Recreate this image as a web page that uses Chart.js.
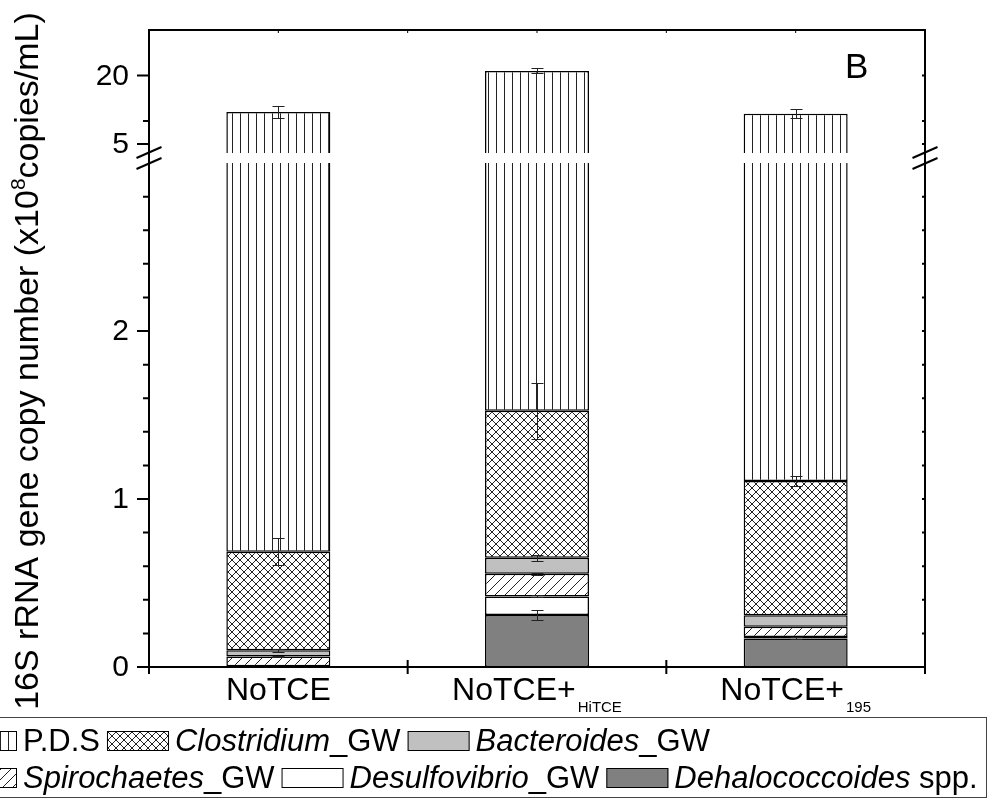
<!DOCTYPE html>
<html>
<head>
<meta charset="utf-8">
<script src="https://cdn.jsdelivr.net/npm/chart.js@4.4.0/dist/chart.umd.min.js"></script>
<style>
  html, body { margin: 0; padding: 0; background: #fff; }
  #wrap { width: 997px; height: 803px; position: relative; }
</style>
</head>
<body>
<div id="wrap"><canvas id="chart"></canvas></div>
<script>
"use strict";

// ── Categories (main label + subscript)
const groups    = ["NoTCE", "NoTCE+", "NoTCE+"];
const groupSubs = ["", "HiTCE", "195"];

// ── Gene copies (x10^8 copies/mL), stacked bottom to top
const dehalococcoides = [0.000, 0.310, 0.170];
const desulfovibrio   = [0.005, 0.110, 0.008];
const spirochaetes    = [0.058, 0.135, 0.062];
const bacteroides     = [0.037, 0.096, 0.068];
const clostridium     = [0.586, 0.875, 0.799];
const pds             = [11.31, 19.48, 10.52];

// ── Standard deviations, same order
const errDhc     = [0.000, 0.028, 0.006];
const errDesulfo = [0.000, 0.006, 0.000];
const errSpiro   = [0.004, 0.006, 0.000];
const errBact    = [0.010, 0.018, 0.000];
const errClost   = [0.080, 0.167, 0.028];
const errPds     = [1.25, 0.55, 1.00];

// ── Broken y axis: lower part 0..3, upper part 3..30
const BREAK    = 3;
const LOW_MAX  = 3.06;
const HIGH_MIN = 3;
const HIGH_MAX = 30;
const lowMajor  = [0, 1, 2];
const lowMinor  = [0.2, 0.4, 0.6, 0.8, 1.2, 1.4, 1.6, 1.8, 2.2, 2.4, 2.6, 2.8];
const highMajor = [5, 20];
const highMinor = [10];

const FONT = '"Liberation Sans", Arial, sans-serif';

// ── Fill patterns
function makePattern(size, draw) {
  const c = document.createElement("canvas");
  c.width = size; c.height = size;
  const g = c.getContext("2d");
  g.fillStyle = "#fff"; g.fillRect(0, 0, size, size);
  g.strokeStyle = "#222"; g.lineWidth = 1;
  draw(g, size);
  return g.createPattern(c, "repeat");
}
const vLines = makePattern(8, (g, s) => {
  g.beginPath(); g.moveTo(0.5, 0); g.lineTo(0.5, s); g.stroke();
});
const crossHatch = makePattern(8, (g, s) => {
  g.beginPath();
  g.moveTo(0, 0); g.lineTo(s, s);
  g.moveTo(s, 0); g.lineTo(0, s);
  g.stroke();
});
const diagHatch = makePattern(10, (g, s) => {
  g.beginPath();
  g.moveTo(0, s); g.lineTo(s, 0);
  g.moveTo(-2, 2); g.lineTo(2, -2);
  g.moveTo(s - 2, s + 2); g.lineTo(s + 2, s - 2);
  g.stroke();
});
const GRAY_LIGHT = "#c0c0c0";
const GRAY_DARK  = "#808080";

// ── Derived stacks
const lowStack = [dehalococcoides, desulfovibrio, spirochaetes, bacteroides, clostridium];
const lowErrs  = [errDhc, errDesulfo, errSpiro, errBact, errClost];
const belowPds = groups.map((_, i) => lowStack.reduce((s, arr) => s + arr[i], 0));
const totals   = groups.map((_, i) => belowPds[i] + pds[i]);
const pdsLow   = groups.map((_, i) => Math.min(totals[i], BREAK) - belowPds[i]);
const pdsHigh  = groups.map((_, i) => [HIGH_MIN, totals[i]]);

const BW = 1.5;
const seg = (label, data, bg) => ({
  label, data, backgroundColor: bg, borderColor: "#000", borderWidth: BW,
  borderSkipped: false, yAxisID: "yLow", stack: "s",
});

const datasets = [
  seg("Dehalococcoides spp.", dehalococcoides, GRAY_DARK),
  seg("Desulfovibrio_GW", desulfovibrio, "#fff"),
  seg("Spirochaetes_GW", spirochaetes, diagHatch),
  seg("Bacteroides_GW", bacteroides, GRAY_LIGHT),
  seg("Clostridium_GW", clostridium, crossHatch),
  { label: "P.D.S", data: pdsLow, backgroundColor: vLines, borderColor: "#000",
    borderWidth: { top: 0, left: BW, right: BW, bottom: BW }, borderSkipped: false,
    yAxisID: "yLow", stack: "s" },
  { label: "P.D.S", data: pdsHigh, backgroundColor: vLines, borderColor: "#000",
    borderWidth: { top: BW, left: BW, right: BW, bottom: 0 }, borderSkipped: false,
    yAxisID: "yHigh", stack: "s" },
];

// ── Error bars on top of each segment
const errorBars = {
  id: "errorBars",
  afterDatasetsDraw(chart) {
    const ctx = chart.ctx, yLow = chart.scales.yLow, yHigh = chart.scales.yHigh;
    const bars = chart.getDatasetMeta(0).data;
    ctx.save();
    ctx.strokeStyle = "#222"; ctx.lineWidth = 1;
    const bar = (x, y1, y2) => {
      ctx.beginPath();
      ctx.moveTo(x, y1); ctx.lineTo(x, y2);
      ctx.moveTo(x - 6, y1); ctx.lineTo(x + 6, y1);
      ctx.moveTo(x - 6, y2); ctx.lineTo(x + 6, y2);
      ctx.stroke();
    };
    groups.forEach((_, i) => {
      const x = Math.round(bars[i].x) + 0.5;
      let cum = 0;
      lowStack.forEach((arr, k) => {
        cum += arr[i];
        const e = lowErrs[k][i];
        if (e > 0) bar(x, Math.round(yLow.getPixelForValue(cum + e)) + 0.5, Math.round(yLow.getPixelForValue(cum - e)) + 0.5);
      });
      const e = errPds[i];
      bar(x, Math.round(yHigh.getPixelForValue(totals[i] + e)) + 0.5, Math.round(yHigh.getPixelForValue(totals[i] - e)) + 0.5);
    });
    ctx.restore();
  },
};

// ── Legend box with pattern swatches and mixed italic text
function drawLegend(ctx) {
  const rows = [
    [ { fill: vLines, parts: [["P.D.S", false]] },
      { fill: crossHatch, parts: [["Clostridium", true], ["_GW", false]] },
      { fill: GRAY_LIGHT, parts: [["Bacteroides", true], ["_GW", false]] } ],
    [ { fill: diagHatch, parts: [["Spirochaetes", true], ["_GW", false]] },
      { fill: "#fff", parts: [["Desulfovibrio", true], ["_GW", false]] },
      { fill: GRAY_DARK, parts: [["Dehalococcoides", true], [" spp.", false]] } ],
  ];
  const rowY = [741, 778];
  ctx.save();
  ctx.strokeStyle = "#444"; ctx.lineWidth = 1;
  ctx.strokeRect(-50.5, 717.5, 1037, 80);
  ctx.textBaseline = "middle";
  rows.forEach((row, r) => {
    let x = -45;
    const yc = rowY[r];
    row.forEach(item => {
      ctx.fillStyle = item.fill;
      ctx.fillRect(x, yc - 10, 62, 20);
      ctx.strokeStyle = "#000";
      ctx.strokeRect(x + 0.5, yc - 9.5, 61, 19);
      x += 62 + 6;
      ctx.fillStyle = "#000";
      item.parts.forEach(([t, it]) => {
        ctx.font = (it ? "italic " : "") + "31px " + FONT;
        ctx.fillText(t, x, yc + 1);
        x += ctx.measureText(t).width;
      });
      x += 7;
    });
  });
  ctx.restore();
}

// ── Frame, ticks, labels, axis break, title
const decorations = {
  id: "decorations",
  afterDraw(chart) {
    const ctx = chart.ctx, area = chart.chartArea;
    const xs = chart.scales.x, yLow = chart.scales.yLow, yHigh = chart.scales.yHigh;
    const L = area.left, R = area.right, T = area.top, B = area.bottom;
    ctx.save();
    ctx.strokeStyle = "#000"; ctx.fillStyle = "#000";

    // top and right frame
    ctx.lineWidth = 2;
    ctx.beginPath();
    ctx.moveTo(L, T); ctx.lineTo(R, T); ctx.lineTo(R, B);
    ctx.stroke();

    // y ticks (left outward, right inward)
    const yTick = (y, len) => {
      ctx.beginPath();
      ctx.moveTo(L - len, y); ctx.lineTo(L, y);
      ctx.moveTo(R - 3, y); ctx.lineTo(R, y);
      ctx.stroke();
    };
    ctx.lineWidth = 2;
    lowMajor.forEach(v => yTick(yLow.getPixelForValue(v), 12));
    lowMinor.forEach(v => yTick(yLow.getPixelForValue(v), 6));
    highMajor.forEach(v => yTick(yHigh.getPixelForValue(v), 12));
    highMinor.forEach(v => yTick(yHigh.getPixelForValue(v), 6));

    ctx.font = "30px " + FONT;
    ctx.textAlign = "right"; ctx.textBaseline = "middle";
    lowMajor.forEach(v => ctx.fillText(String(v), L - 20, yLow.getPixelForValue(v) + 1));
    highMajor.forEach(v => ctx.fillText(String(v), L - 20, yHigh.getPixelForValue(v) + 1));

    // x ticks: boundaries below the axis, small marks at top
    const centers = groups.map((_, i) => xs.getPixelForValue(i));
    const bounds = [L, (centers[0] + centers[1]) / 2, (centers[1] + centers[2]) / 2, R];
    ctx.lineWidth = 2;
    bounds.forEach((x, k) => {
      const inner = k > 0 && k < bounds.length - 1;
      ctx.beginPath();
      ctx.moveTo(x, inner ? B - 7 : B); ctx.lineTo(x, B + 7);
      ctx.stroke();
    });
    ctx.lineWidth = 1;
    bounds.concat(centers).forEach(x => {
      ctx.beginPath(); ctx.moveTo(x, T); ctx.lineTo(x, T + 3); ctx.stroke();
    });

    // category labels with subscripts
    groups.forEach((g, i) => {
      ctx.font = "32px " + FONT;
      const w1 = ctx.measureText(g).width;
      ctx.font = "15px " + FONT;
      const w2 = groupSubs[i] ? ctx.measureText(groupSubs[i]).width + 2 : 0;
      const x0 = centers[i] - (w1 + w2) / 2;
      ctx.textAlign = "left"; ctx.textBaseline = "alphabetic";
      ctx.font = "32px " + FONT;
      ctx.fillText(g, x0, 700);
      if (groupSubs[i]) {
        ctx.font = "15px " + FONT;
        ctx.fillText(groupSubs[i], x0 + w1 + 2, 712);
      }
    });

    // axis break marks
    const yb = (yHigh.bottom + yLow.getPixelForValue(BREAK)) / 2;
    ctx.lineWidth = 2;
    [L, R].forEach(x => {
      [-5.5, 5.5].forEach(d => {
        ctx.beginPath();
        ctx.moveTo(x - 12.5, yb + d + 5.5); ctx.lineTo(x + 12.5, yb + d - 5.5);
        ctx.stroke();
      });
    });

    // panel letter
    ctx.font = "35px " + FONT;
    ctx.textAlign = "left"; ctx.textBaseline = "alphabetic";
    ctx.fillText("B", 845, 78);

    // y title, rotated, with superscript
    const parts = [["16S rRNA gene copy number (x10", 34, 0], ["8", 21, -13], ["copies/mL)", 34, 0]];
    let total = 0;
    parts.forEach(p => { ctx.font = p[1] + "px " + FONT; total += ctx.measureText(p[0]).width; });
    ctx.translate(38, 361);
    ctx.rotate(-Math.PI / 2);
    let tx = -total / 2;
    parts.forEach(p => {
      ctx.font = p[1] + "px " + FONT;
      ctx.fillText(p[0], tx, p[2]);
      tx += ctx.measureText(p[0]).width;
    });
    ctx.restore();

    drawLegend(ctx);
  },
};

new Chart(document.getElementById("chart"), {
  type: "bar",
  data: { labels: groups, datasets },
  options: {
    responsive: true, maintainAspectRatio: false, animation: false,
    layout: { padding: { left: 149, right: 72, top: 30, bottom: 136 } },
    datasets: { bar: { barPercentage: 0.402, categoryPercentage: 1 } },
    plugins: { legend: { display: false }, tooltip: { enabled: false } },
    scales: {
      x: {
        stacked: true, offset: true,
        grid: { display: false }, ticks: { display: false },
        border: { display: true, color: "#000", width: 2 },
        afterFit: s => { s.height = 0; },
      },
      yLow: {
        type: "linear", position: "left", stack: "y", stackWeight: 514,
        stacked: true, min: 0, max: LOW_MAX,
        grid: { display: false }, ticks: { display: false },
        border: { display: true, color: "#000", width: 2 },
        afterFit: s => { s.width = 0; },
      },
      yHigh: {
        type: "linear", position: "left", stack: "y", stackWeight: 123,
        min: HIGH_MIN, max: HIGH_MAX,
        grid: { display: false }, ticks: { display: false },
        border: { display: true, color: "#000", width: 2 },
        afterFit: s => { s.width = 0; },
      },
    },
  },
  plugins: [errorBars, decorations],
});
</script>
</body>
</html>
